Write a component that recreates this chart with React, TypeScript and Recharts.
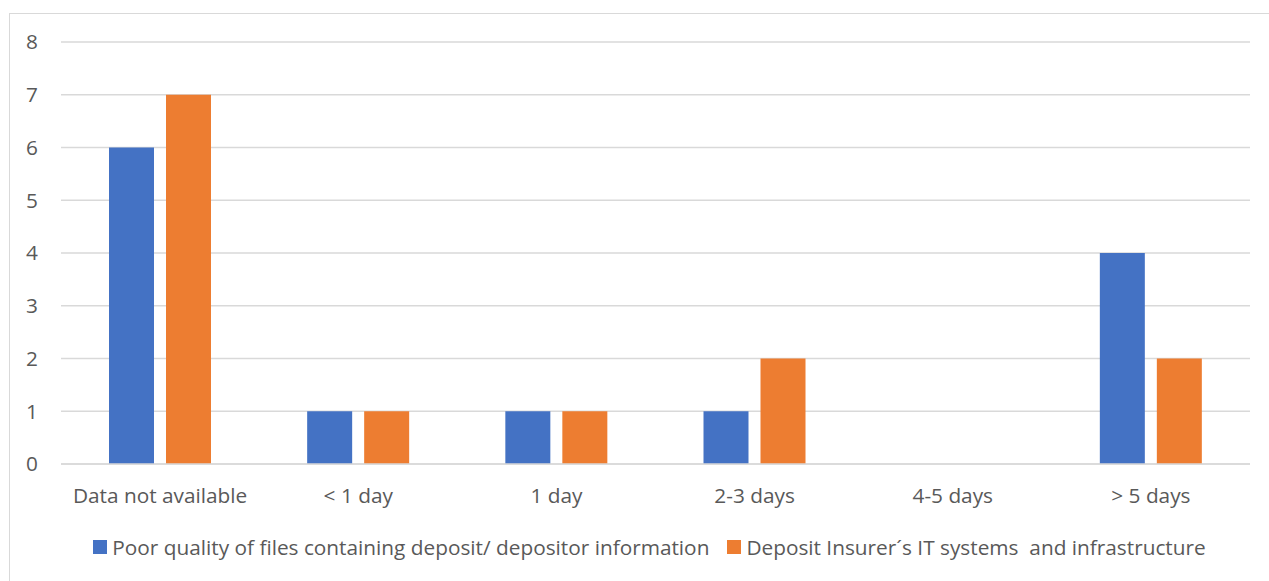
import React from 'react'
import { BarChart, Bar, XAxis, YAxis, CartesianGrid } from 'recharts'

const categories = ['Data not available', '< 1 day', '1 day', '2-3 days', '4-5 days', '> 5 days']
const poorQuality = [6, 1, 1, 1, 0, 4]
const itSystems = [7, 1, 1, 2, 0, 2]
const yTicks = [0, 1, 2, 3, 4, 5, 6, 7, 8]

const seriesNames = [
  'Poor quality of files containing deposit/ depositor information',
  'Deposit Insurer\u00b4s IT systems  and infrastructure',
]
const colors = ['#4472C4', '#ED7D31']

const data = categories.map((name, i) => ({
  name,
  poor: poorQuality[i],
  it: itSystems[i],
}))

const FONT = '"Open Sans", sans-serif'
const TEXT = '#595959'
const FS = 20.8

function LegendRow() {
  return (
    <div
      style={{
        position: 'absolute',
        top: 532,
        left: 0,
        width: 1299,
        display: 'flex',
        justifyContent: 'center',
        fontFamily: FONT,
        fontSize: FS,
        lineHeight: '30px',
        color: TEXT,
        whiteSpace: 'pre',
      }}
    >
      {seriesNames.map((n, i) => (
        <span key={n} style={{ display: 'flex', alignItems: 'center', marginRight: i === 0 ? 18 : 0 }}>
          <span style={{ width: 14, height: 14, background: colors[i], marginRight: 5, display: 'inline-block' }} />
          {n}
        </span>
      ))}
    </div>
  )
}

export default function App() {
  return (
    <div style={{ position: 'absolute', left: 0, top: 0, width: 1269, height: 581, background: '#fff', overflow: 'hidden' }}>
      <div
        style={{
          position: 'absolute',
          left: 9,
          top: 13,
          width: 1280,
          height: 600,
          border: '1px solid #d9d9d9',
          boxSizing: 'border-box',
        }}
      />
      <div style={{ position: 'absolute', left: 0, top: 0 }}>
        <BarChart
          width={1269}
          height={581}
          data={data}
          margin={{ top: 42, right: 19, bottom: 87, left: 0 }}
          barCategoryGap="24.5%"
          barGap={12}
        >
          <CartesianGrid vertical={false} stroke="#d9d9d9" strokeWidth={1.5} />
          <XAxis
            dataKey="name"
            axisLine={{ stroke: '#d9d9d9', strokeWidth: 1.5 }}
            tickLine={false}
            tickSize={0}
            tickMargin={24}
            interval={0}
            tick={{ fill: TEXT, fontSize: FS, fontFamily: FONT }}
          />
          <YAxis
            width={61}
            domain={[0, 8]}
            ticks={yTicks}
            axisLine={false}
            tickLine={false}
            tickSize={0}
            tickMargin={23}
            tick={{ fill: TEXT, fontSize: FS, fontFamily: FONT }}
          />
          <Bar dataKey="poor" name={seriesNames[0]} fill={colors[0]} barSize={45} isAnimationActive={false} />
          <Bar dataKey="it" name={seriesNames[1]} fill={colors[1]} barSize={45} isAnimationActive={false} />
        </BarChart>
      </div>
      <LegendRow />
    </div>
  )
}
